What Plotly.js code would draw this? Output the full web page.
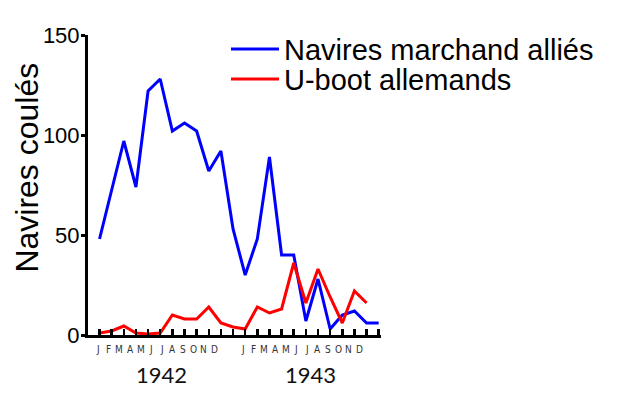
<!DOCTYPE html>
<html>
<head>
<meta charset="utf-8">
<script src="https://cdn.plot.ly/plotly-3.0.1.min.js"></script>
<style>
html,body{margin:0;padding:0;background:#fff;}
#chart{width:620px;height:405px;}
</style>
</head>
<body>
<div id="chart"></div>
<script>
// Month letters and years
var monthLetters = ['J','F','M','A','M','J','J','A','S','O','N','D'];
var years = ['1942','1943'];

// Ships sunk per month, Jan 1942 .. Dec 1943
var alliedShips = [48, 73, 97, 74, 122, 128, 102, 106, 102, 82, 92, 53,
                   30, 48, 89, 40, 40, 7, 28, 3, 10, 12, 6, 6];
// U-boats sunk per month, Jan 1942 .. Nov 1943
var uboats = [1, 2, 4.5, 1, 0.5, 1, 10, 8, 8, 14, 6, 4,
              3, 14, 11, 13, 36, 16, 33, 19, 6, 22, 16];

var seriesNames = ['Navires marchand alliés', 'U-boot allemands'];
var yTitle = 'Navires coulés';
var yTicks = [0, 50, 100, 150];

function idx(arr){ return arr.map(function(_, i){ return i; }); }

var traces = [
  {x: idx(alliedShips), y: alliedShips, type: 'scatter', mode: 'lines',
   name: seriesNames[0], line: {color: '#0000ff', width: 3}, legend: 'legend'},
  {x: idx(uboats), y: uboats, type: 'scatter', mode: 'lines',
   name: seriesNames[1], line: {color: '#ff0000', width: 3}, legend: 'legend2'}
];

var annotations = [];
var monthStart = [-0.1, 11.85];
var monthPitch = 0.87;
var yearCenter = [5.07, 17.42];
years.forEach(function(yr, k){
  monthLetters.forEach(function(m, i){
    annotations.push({x: monthStart[k] + i*monthPitch, xref: 'x', y: -0.049, yref: 'paper',
      text: m, showarrow: false, xanchor: 'center', yanchor: 'middle',
      font: {family: 'Liberation Sans Narrow, DejaVu Sans Condensed, Open Sans, sans-serif',
             size: 10, color: '#333333'}});
  });
  annotations.push({x: yearCenter[k], xref: 'x', y: -0.132, yref: 'paper',
    text: yr, showarrow: false, xanchor: 'center', yanchor: 'middle',
    font: {family: 'Lato, Open Sans, sans-serif', size: 22, color: '#111111'}});
});
// y axis title, placed like the reference (above the axis centre)
annotations.push({x: (27 - 88) / 293, xref: 'paper', xanchor: 'center', y: 0.558, yref: 'paper',
  yanchor: 'middle', text: yTitle, textangle: -90, showarrow: false,
  font: {family: 'Liberation Sans, Arial, sans-serif', size: 32, color: '#000'}});

var legendBase = {xanchor: 'left', yanchor: 'middle', bgcolor: 'rgba(0,0,0,0)',
  borderwidth: 0, itemwidth: 48,
  font: {family: 'Liberation Sans, Arial, sans-serif', size: 29, color: '#000'}};

var layout = {
  width: 620, height: 405,
  margin: {l: 88, r: 239, t: 35, b: 70},
  paper_bgcolor: '#fff', plot_bgcolor: '#fff',
  font: {family: 'Liberation Sans, Arial, sans-serif', color: '#000'},
  xaxis: {range: [-0.95, 23.19], showgrid: false, zeroline: false,
    showline: true, linecolor: '#000', linewidth: 3,
    tickmode: 'array', tickvals: idx(alliedShips), ticks: 'inside', ticklen: 6,
    tickwidth: 2.5, tickcolor: '#000', showticklabels: false},
  yaxis: {range: [0, 150], showgrid: false, zeroline: false,
    showline: true, linecolor: '#000', linewidth: 3,
    tickmode: 'array', tickvals: yTicks, ticktext: yTicks.map(String),
    ticks: 'outside', ticklen: 4, tickwidth: 3, tickcolor: '#000',
    ticklabelstandoff: -3,
    tickfont: {size: 22, color: '#000'}},
  legend: Object.assign({x: (226 - 88) / 293, y: 0.953}, legendBase),
  legend2: Object.assign({x: (226 - 88) / 293, y: 0.853}, legendBase),
  showlegend: true,
  annotations: annotations
};

Plotly.newPlot('chart', traces, layout, {staticPlot: true, displayModeBar: false});
</script>
</body>
</html>
